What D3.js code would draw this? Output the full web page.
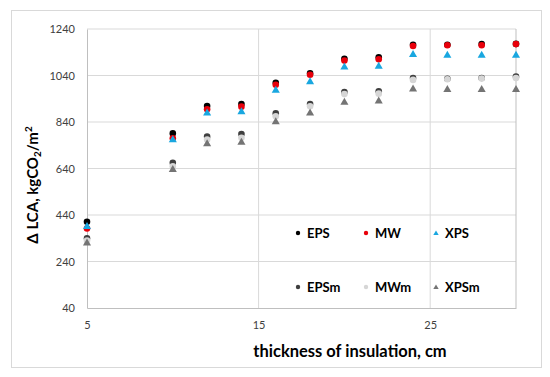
<!DOCTYPE html>
<html><head><meta charset="utf-8">
<script src="https://cdn.jsdelivr.net/npm/d3@7"></script>
<style>body{margin:0;background:#fff}svg{display:block}text{font-family:Lato,"Open Sans",sans-serif}</style>
</head><body><svg id="c" width="550" height="377"></svg>
<script>
const thickness = [5, 10, 12, 14, 16, 18, 20, 22, 24, 26, 28, 30];
const EPS  = [411, 791, 909, 917, 1009, 1049, 1112, 1118, 1172, 1172, 1175, 1176];
const MW   = [382, 770, 895, 906, 1000, 1043, 1104, 1110, 1167, 1170, 1170, 1175];
const XPS  = [392, 765, 880, 886, 978, 1015, 1078, 1081, 1132, 1129, 1129, 1129];
const EPSm = [340, 665, 777, 788, 877, 917, 969, 972, 1029, 1026, 1029, 1035];
const MWm  = [330, 650, 765, 772, 865, 908, 960, 962, 1021, 1024, 1027, 1029];
const XPSm = [321, 637, 748, 754, 843, 880, 926, 932, 983, 981, 981, 981];
const yTicks = [40, 240, 440, 640, 840, 1040, 1240];
const xTicks = [5, 15, 25];

const series = [
  {name:"EPS", data:EPS, shape:"circle", color:"#000000"},
  {name:"MW", data:MW, shape:"circle", color:"#e8000b"},
  {name:"XPS", data:XPS, shape:"triangle", color:"#19a7e0"},
  {name:"EPSm", data:EPSm, shape:"circle", color:"#3f3f3f"},
  {name:"MWm", data:MWm, shape:"circle", color:"#d6d6d6"},
  {name:"XPSm", data:XPSm, shape:"triangle", color:"#747474"}
];

const svg = d3.select("#c");
svg.append("rect").attr("x",11.5).attr("y",10.5).attr("width",530).attr("height",357)
  .attr("fill","#fff").attr("stroke","#d9d9d9");

const L=87, T=29, R=516, B=308;
const x = d3.scaleLinear().domain([5,30]).range([L,R]);
const y = d3.scaleLinear().domain([40,1240]).range([B,T]);

const g = svg.append("g");
g.selectAll(".hg").data(yTicks.slice(1)).enter().append("line")
  .attr("x1",L).attr("x2",R).attr("y1",d=>y(d)).attr("y2",d=>y(d))
  .attr("stroke","#d9d9d9").attr("stroke-width",1);
g.selectAll(".vg").data(xTicks.slice(1)).enter().append("line")
  .attr("y1",T).attr("y2",B).attr("x1",d=>x(d)).attr("x2",d=>x(d))
  .attr("stroke","#d9d9d9").attr("stroke-width",1);
g.append("line").attr("x1",R).attr("x2",R).attr("y1",T).attr("y2",B).attr("stroke","#bfbfbf");

const fmt = d3.format("d");
const ya = d3.axisLeft(y).tickValues(yTicks).tickFormat(fmt).tickSize(0).tickPadding(12);
const yg = svg.append("g").attr("transform",`translate(${L},0)`).call(ya);
yg.select(".domain").attr("stroke","#bfbfbf");
yg.selectAll("text").attr("font-size",11).attr("fill","#404040");
const xa = d3.axisBottom(x).tickValues(xTicks).tickFormat(fmt).tickSize(0).tickPadding(13);
const xg = svg.append("g").attr("transform",`translate(0,${B})`).call(xa);
xg.select(".domain").attr("stroke","#bfbfbf");
xg.selectAll("text").attr("font-size",11).attr("fill","#404040");

const tri = d3.symbol().type(d3.symbolTriangle);
function drawMarker(sel, s, size){
  if(s.shape==="circle"){
    sel.append("circle").attr("r",size).attr("fill",s.color);
  } else {
    sel.append("path").attr("d",tri.size(size*size*2.6)()).attr("fill",s.color)
      .attr("transform","translate(0,0.5)");
  }
}
series.forEach(s=>{
  const grp = svg.append("g");
  s.data.forEach((v,i)=>{
    const m = grp.append("g").attr("transform",`translate(${x(thickness[i])},${y(v)})`);
    drawMarker(m, s, 3.3);
  });
});

const legX = [298, 366, 436];
const legY = [233, 287];
series.forEach((s,i)=>{
  const lx = legX[i%3], ly = legY[Math.floor(i/3)];
  const m = svg.append("g").attr("transform",`translate(${lx},${ly})`);
  drawMarker(m, s, 2.2);
  svg.append("text").attr("x",lx+9).attr("y",ly).attr("dy","0.35em")
    .attr("font-size",13).attr("font-weight","bold").attr("fill","#000").text(s.name);
});

svg.append("text").attr("x",350).attr("y",357).attr("text-anchor","middle")
  .attr("font-size",16.5).attr("font-weight","bold").attr("fill","#000")
  .text("thickness of insulation, cm");
const yt = svg.append("text").attr("transform","translate(38,185) rotate(-90)")
  .attr("text-anchor","middle").attr("font-size",15).attr("font-weight","bold").attr("fill","#000");
yt.append("tspan").text("Δ LCA, kgCO");
yt.append("tspan").attr("font-size",10).attr("dy",3).text("2");
yt.append("tspan").attr("dy",-3).text("/m");
yt.append("tspan").attr("font-size",10).attr("dy",-6).text("2");
</script></body></html>
